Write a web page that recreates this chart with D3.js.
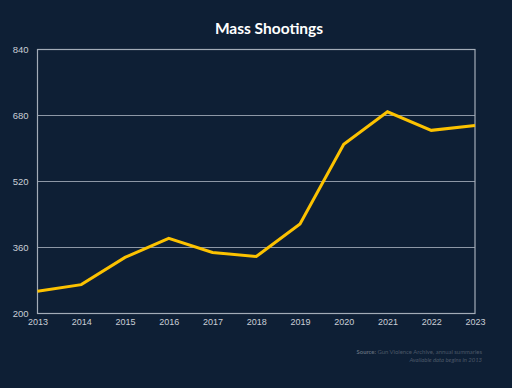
<!DOCTYPE html>
<html>
<head>
<meta charset="utf-8">
<script src="https://cdn.jsdelivr.net/npm/d3@7"></script>
<style>
  html, body { margin: 0; padding: 0; background: #0e1f35; }
  svg { display: block; }
</style>
</head>
<body>
<div id="chart"></div>
<script>
// data
years = [2013, 2014, 2015, 2016, 2017, 2018, 2019, 2020, 2021, 2022, 2023];
shootings = [254, 270, 336, 382, 348, 338, 417, 610, 689, 644, 656];
yTicks = [200, 360, 520, 680, 840];

width = 512;
height = 388;
margin = {top: 49.5, right: 37, bottom: 74.5, left: 37.5};

svg = d3.select('#chart').append('svg')
  .attr('width', width)
  .attr('height', height);

svg.append('rect')
  .attr('width', width).attr('height', height)
  .attr('fill', '#0e1f35');

x = d3.scaleLinear()
  .domain([2013, 2023])
  .range([margin.left, width - margin.right]);

y = d3.scaleLinear()
  .domain([200, 840])
  .range([height - margin.bottom, margin.top]);

// gridlines
svg.append('g')
  .selectAll('line')
  .data(yTicks.slice(1, -1))
  .join('line')
  .attr('x1', x(2013)).attr('x2', x(2023))
  .attr('y1', d => y(d)).attr('y2', d => y(d))
  .attr('stroke', '#8d97a6')
  .attr('stroke-width', 1);

// frame round the plot
svg.append('rect')
  .attr('x', x(2013)).attr('y', y(840))
  .attr('width', x(2023) - x(2013))
  .attr('height', y(200) - y(840))
  .attr('fill', 'none')
  .attr('stroke', '#a3acb8')
  .attr('stroke-width', 1.2);

// y axis labels
yAxis = d3.axisLeft(y).tickValues(yTicks).tickSize(0).tickPadding(9);
svg.append('g')
  .attr('transform', 'translate(' + x(2013) + ',0)')
  .call(yAxis)
  .call(g => g.select('.domain').remove())
  .selectAll('text')
  .attr('fill', '#c9ced6')
  .attr('font-family', 'Liberation Sans, Arial, sans-serif')
  .attr('font-size', 9.5);

// x axis labels
xAxis = d3.axisBottom(x).tickValues(years).tickFormat(d3.format('d')).tickSize(0).tickPadding(5);
svg.append('g')
  .attr('transform', 'translate(0,' + y(200) + ')')
  .call(xAxis)
  .call(g => g.select('.domain').remove())
  .selectAll('text')
  .attr('fill', '#c9ced6')
  .attr('font-family', 'Liberation Sans, Arial, sans-serif')
  .attr('font-size', 9);

// the line
line = d3.line()
  .x((d, i) => x(years[i]))
  .y(d => y(d));

svg.append('path')
  .datum(shootings)
  .attr('d', line)
  .attr('fill', 'none')
  .attr('stroke', '#fcc200')
  .attr('stroke-width', 3)
  .attr('stroke-linejoin', 'miter');

// title
svg.append('text')
  .attr('x', 269).attr('y', 34)
  .attr('text-anchor', 'middle')
  .attr('fill', '#ffffff')
  .attr('font-family', 'Lato, sans-serif')
  .attr('font-weight', 'bold')
  .attr('font-size', 15.5)
  .text('Mass Shootings');

// source note
note = svg.append('text')
  .attr('x', 482).attr('y', 354)
  .attr('text-anchor', 'end')
  .attr('fill', '#4c5868')
  .attr('font-family', 'Lato, sans-serif')
  .attr('font-size', 5.9);
note.append('tspan').attr('font-weight', 'bold').attr('fill', '#5f6a78').text('Source: ');
note.append('tspan').text('Gun Violence Archive, annual summaries');

svg.append('text')
  .attr('x', 482).attr('y', 362)
  .attr('text-anchor', 'end')
  .attr('fill', '#4c5868')
  .attr('font-family', 'Lato, sans-serif')
  .attr('font-style', 'italic')
  .attr('font-size', 5.9)
  .text('Available data begins in 2013');
</script>
</body>
</html>
